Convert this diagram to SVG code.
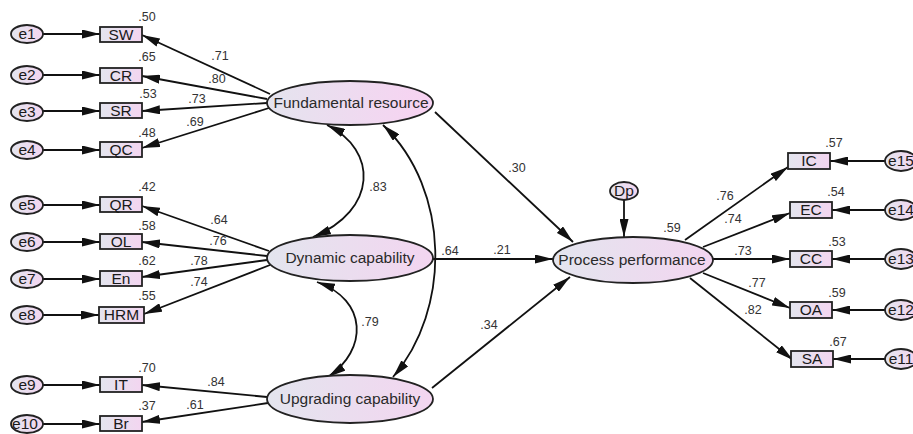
<svg xmlns="http://www.w3.org/2000/svg" width="913" height="434" viewBox="0 0 913 434">
<defs>
<linearGradient id="g" x1="0" y1="0" x2="1" y2="0">
<stop offset="0" stop-color="#e3e5ee"/>
<stop offset="1" stop-color="#f3d5f0"/>
</linearGradient>
<linearGradient id="gp" x1="0" y1="0" x2="1" y2="0">
<stop offset="0" stop-color="#e4e4ee"/>
<stop offset="1" stop-color="#f8d2f2"/>
</linearGradient>
<marker id="a" markerUnits="userSpaceOnUse" markerWidth="19" markerHeight="9" refX="18" refY="4.5" orient="auto-start-reverse">
<path d="M0,0 L18,4.5 L0,9 z" fill="#111"/>
</marker>
<style>
.n{stroke:#222;stroke-width:1.8;fill:url(#g)}
.p{stroke:#222;stroke-width:1.8;fill:url(#gp)}
.t{font-family:"Liberation Sans",Arial,sans-serif;font-size:15.5px;fill:#2a2a2a;text-anchor:middle}
.b{font-family:"Liberation Sans",Arial,sans-serif;font-size:15.5px;fill:#1a1a1a;text-anchor:middle}
.v{font-family:"Liberation Sans",Arial,sans-serif;font-size:12.5px;fill:#333;text-anchor:middle}
.c path,.c line{stroke:#111;stroke-width:1.8;fill:none;marker-end:url(#a)}
.c .d{marker-start:url(#a)}
</style>
</defs>
<rect width="913" height="434" fill="#fff"/>

<g class="c" id="connectors">
<line x1="43" y1="34" x2="100" y2="34"/>
<line x1="43" y1="75" x2="100" y2="75"/>
<line x1="43" y1="111" x2="100" y2="111"/>
<line x1="43" y1="150" x2="100" y2="150"/>
<line x1="43" y1="205" x2="100" y2="205"/>
<line x1="43" y1="242" x2="100" y2="242"/>
<line x1="43" y1="279" x2="100" y2="279"/>
<line x1="43" y1="315" x2="99" y2="315"/>
<line x1="43" y1="385" x2="100" y2="385"/>
<line x1="43" y1="424" x2="100" y2="424"/>
<line x1="270" y1="94" x2="142" y2="35"/>
<line x1="267" y1="99" x2="142" y2="76"/>
<line x1="267" y1="103" x2="142" y2="111"/>
<line x1="269" y1="108" x2="142" y2="148"/>
<line x1="269" y1="251" x2="142" y2="206"/>
<line x1="267" y1="256" x2="142" y2="242"/>
<line x1="267" y1="260" x2="142" y2="277"/>
<line x1="270" y1="265" x2="144" y2="314"/>
<line x1="267" y1="397" x2="142" y2="385"/>
<line x1="268" y1="403" x2="142" y2="422"/>
<path class="d" d="M327,125 C378,150 378,210 313,237"/>
<path class="d" d="M317,282 C368,300 368,350 328,377"/>
<path class="d" d="M383,125 C451,190 451,310 393,377"/>
<line x1="435" y1="112" x2="573" y2="242"/>
<line x1="433" y1="259" x2="553" y2="259"/>
<line x1="432" y1="388" x2="570" y2="277"/>
<line x1="624" y1="200" x2="624" y2="237"/>
<line x1="685" y1="240" x2="788" y2="167"/>
<line x1="703" y1="247" x2="790" y2="213"/>
<line x1="713" y1="259" x2="790" y2="259"/>
<line x1="703" y1="273" x2="790" y2="308"/>
<line x1="690" y1="278" x2="793" y2="360"/>
<line x1="885" y1="161" x2="830" y2="161"/>
<line x1="885" y1="210" x2="832" y2="210"/>
<line x1="885" y1="259" x2="832" y2="259"/>
<line x1="885" y1="310" x2="832" y2="310"/>
<line x1="885" y1="359" x2="833" y2="359"/>
</g>

<g id="e1"><ellipse class="n" cx="27" cy="34" rx="16" ry="9"/><text class="b" x="27" y="39">e1</text></g>
<g id="e2"><ellipse class="n" cx="27" cy="75" rx="16" ry="9"/><text class="b" x="27" y="80">e2</text></g>
<g id="e3"><ellipse class="n" cx="27" cy="112" rx="16" ry="9"/><text class="b" x="27" y="117">e3</text></g>
<g id="e4"><ellipse class="n" cx="27" cy="150" rx="16" ry="9"/><text class="b" x="27" y="155">e4</text></g>
<g id="e5"><ellipse class="n" cx="27" cy="205" rx="16" ry="9"/><text class="b" x="27" y="210">e5</text></g>
<g id="e6"><ellipse class="n" cx="27" cy="242" rx="16" ry="9"/><text class="b" x="27" y="247">e6</text></g>
<g id="e7"><ellipse class="n" cx="27" cy="279" rx="16" ry="9"/><text class="b" x="27" y="284">e7</text></g>
<g id="e8"><ellipse class="n" cx="27" cy="315" rx="16" ry="9"/><text class="b" x="27" y="320">e8</text></g>
<g id="e9"><ellipse class="n" cx="27" cy="385" rx="16" ry="9"/><text class="b" x="27" y="390">e9</text></g>
<g id="e10"><ellipse class="n" cx="27" cy="424" rx="16" ry="9"/><text class="b" x="25" y="429">e10</text></g>

<g id="SW"><rect class="n" x="100" y="27" width="42" height="15"/><text class="b" x="121" y="40">SW</text></g>
<g id="CR"><rect class="n" x="100" y="68" width="42" height="15"/><text class="b" x="121" y="81">CR</text></g>
<g id="SR"><rect class="n" x="100" y="103" width="42" height="15"/><text class="b" x="121" y="116">SR</text></g>
<g id="QC"><rect class="n" x="100" y="142" width="42" height="15"/><text class="b" x="121" y="155">QC</text></g>
<g id="QR"><rect class="n" x="100" y="197" width="42" height="15"/><text class="b" x="121" y="210">QR</text></g>
<g id="OL"><rect class="n" x="100" y="234" width="42" height="15"/><text class="b" x="121" y="247">OL</text></g>
<g id="En"><rect class="n" x="100" y="271" width="42" height="15"/><text class="b" x="121" y="284">En</text></g>
<g id="HRM"><rect class="n" x="99" y="307" width="45" height="16"/><text class="b" x="121.5" y="320">HRM</text></g>
<g id="IT"><rect class="n" x="100" y="377" width="42" height="15"/><text class="b" x="121" y="390">IT</text></g>
<g id="Br"><rect class="n" x="100" y="416" width="42" height="15"/><text class="b" x="121" y="429">Br</text></g>

<g id="FR"><ellipse class="p" cx="350" cy="103" rx="83" ry="22"/><text class="t" x="351" y="108">Fundamental resource</text></g>
<g id="DC"><ellipse class="n" cx="350" cy="258" rx="83" ry="23"/><text class="t" x="350" y="263">Dynamic capability</text></g>
<g id="UC"><ellipse class="n" cx="350" cy="399" rx="83" ry="24"/><text class="t" x="350" y="404">Upgrading capability</text></g>
<g id="PP"><ellipse class="n" cx="633" cy="260" rx="80" ry="23"/><text class="t" x="632" y="265">Process performance</text></g>
<g id="Dp"><ellipse class="n" cx="624" cy="191" rx="14" ry="9"/><text class="b" x="624" y="196">Dp</text></g>

<g id="IC"><rect class="n" x="788" y="153" width="42" height="16"/><text class="b" x="809" y="166">IC</text></g>
<g id="EC"><rect class="n" x="790" y="202" width="42" height="16"/><text class="b" x="811" y="215">EC</text></g>
<g id="CC"><rect class="n" x="790" y="251" width="42" height="16"/><text class="b" x="811" y="264">CC</text></g>
<g id="OA"><rect class="n" x="790" y="302" width="42" height="16"/><text class="b" x="811" y="315">OA</text></g>
<g id="SA"><rect class="n" x="791" y="351" width="42" height="16"/><text class="b" x="812" y="364">SA</text></g>

<g id="e15"><ellipse class="n" cx="901" cy="161" rx="16" ry="10"/><text class="b" x="901" y="166">e15</text></g>
<g id="e14"><ellipse class="n" cx="901" cy="210" rx="16" ry="10"/><text class="b" x="901" y="215">e14</text></g>
<g id="e13"><ellipse class="n" cx="901" cy="259" rx="16" ry="10"/><text class="b" x="901" y="264">e13</text></g>
<g id="e12"><ellipse class="n" cx="901" cy="310" rx="16" ry="10"/><text class="b" x="901" y="315">e12</text></g>
<g id="e11"><ellipse class="n" cx="901" cy="359" rx="16" ry="10"/><text class="b" x="901" y="364">e11</text></g>

<g id="values">
<text class="v" x="147" y="21">.50</text>
<text class="v" x="147" y="61">.65</text>
<text class="v" x="148" y="98">.53</text>
<text class="v" x="147" y="137">.48</text>
<text class="v" x="147" y="191">.42</text>
<text class="v" x="147" y="230">.58</text>
<text class="v" x="147" y="265">.62</text>
<text class="v" x="147" y="300">.55</text>
<text class="v" x="147" y="372">.70</text>
<text class="v" x="147" y="410">.37</text>
<text class="v" x="220" y="60">.71</text>
<text class="v" x="217" y="83">.80</text>
<text class="v" x="197" y="103">.73</text>
<text class="v" x="195" y="126">.69</text>
<text class="v" x="219" y="224">.64</text>
<text class="v" x="218" y="245">.76</text>
<text class="v" x="199" y="265">.78</text>
<text class="v" x="199" y="286">.74</text>
<text class="v" x="216" y="386">.84</text>
<text class="v" x="195" y="409">.61</text>
<text class="v" x="378" y="191">.83</text>
<text class="v" x="370" y="326">.79</text>
<text class="v" x="450" y="255">.64</text>
<text class="v" x="517" y="172">.30</text>
<text class="v" x="502" y="254">.21</text>
<text class="v" x="489" y="329">.34</text>
<text class="v" x="672" y="232">.59</text>
<text class="v" x="725" y="200">.76</text>
<text class="v" x="733" y="223">.74</text>
<text class="v" x="743" y="255">.73</text>
<text class="v" x="757" y="287">.77</text>
<text class="v" x="753" y="314">.82</text>
<text class="v" x="834" y="147">.57</text>
<text class="v" x="836" y="196">.54</text>
<text class="v" x="837" y="246">.53</text>
<text class="v" x="837" y="297">.59</text>
<text class="v" x="838" y="346">.67</text>
</g>
</svg>
